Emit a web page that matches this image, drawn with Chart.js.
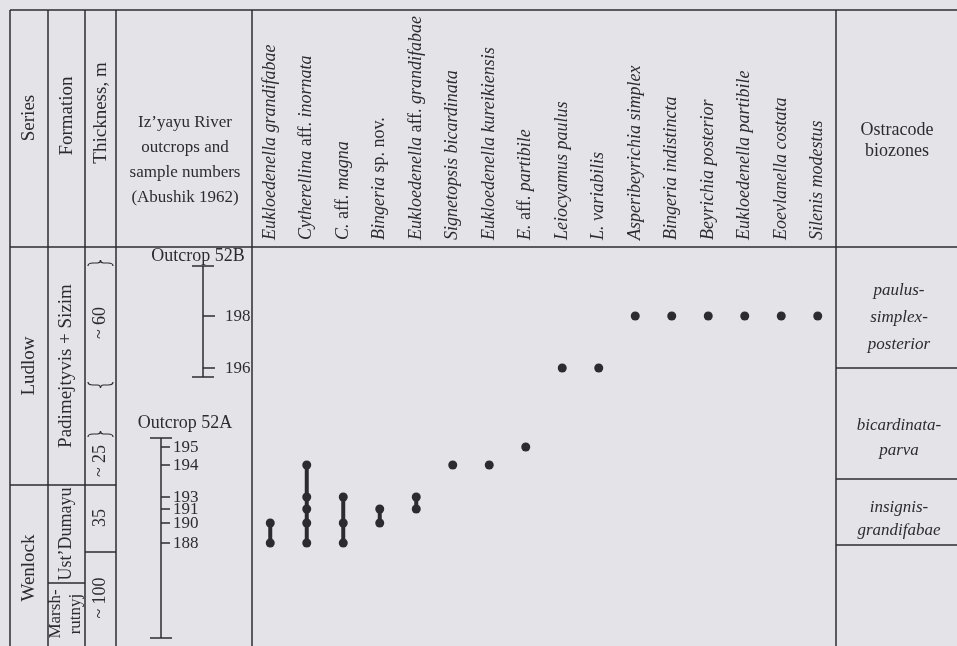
<!DOCTYPE html>
<html>
<head>
<meta charset="utf-8">
<script src="https://cdn.jsdelivr.net/npm/chart.js@4.4.0/dist/chart.umd.min.js"></script>
<style>
  html, body { margin: 0; padding: 0; background: #e4e4e8; }
  #wrap { width: 957px; height: 646px; position: relative; }
  canvas { display: block; }
</style>
</head>
<body>
<div id="wrap"><canvas id="rangeChart"></canvas></div>
<script>
// Ostracode species, in column order
const species = [
    'Eukloedenella grandifabae', 'Cytherellina aff. inornata', 'C. aff. magna',
    'Bingeria sp. nov.', 'Eukloedenella aff. grandifabae', 'Signetopsis bicardinata',
    'Eukloedenella kureikiensis', 'E. aff. partibile', 'Leiocyamus paulus',
    'L. variabilis', 'Asperibeyrichia simplex', 'Bingeria indistincta',
    'Beyrichia posterior', 'Eukloedenella partibile', 'Eoevlanella costata',
    'Silenis modestus'
];

// samples in which each species was found
const occurrences = [
    [190, 188], [194, 193, 191, 190, 188], [193, 190, 188],
    [191, 190], [193, 191], [194],
    [194], [195], [196],
    [196], [198], [198],
    [198], [198], [198],
    [198]
];

// sample numbers and their stratigraphic height (section units, base = 0)
const sampleNumbers = [198, 196, 195, 194, 193, 191, 190, 188];
const sampleHeights = [330, 278, 199, 181, 149, 137, 123, 103];

// outcrops (Abushik 1962)
const outcrops = ['Outcrop 52B', 'Outcrop 52A'];
const outcropTop = [380, 208];
const outcropBase = [269, 8];
const outcropSamples = [[198, 196], [195, 194, 193, 191, 190, 188]];

// biozones
const biozones = [['paulus-', 'simplex-', 'posterior'], ['bicardinata-', 'parva'], ['insignis-', 'grandifabae']];

const INK = '#2c2c30';
const SERIF = '"Liberation Serif", "DejaVu Serif", serif';

function heightOf(sample) {
    return sampleHeights[sampleNumbers.indexOf(sample)];
}

// draw words rotated -90deg, italic except for "aff.", "sp.", "nov."
function rotLabel(ctx, text, x, y, size) {
    const parts = text.split(' ').map((w, k) => {
        const plain = ['aff.', 'sp.', 'nov.'].includes(w);
        return { t: (k ? ' ' : '') + w, font: (plain ? '' : 'italic ') + size + 'px ' + SERIF };
    });
    ctx.save();
    ctx.translate(x, y);
    ctx.rotate(-Math.PI / 2);
    ctx.textBaseline = 'middle';
    ctx.textAlign = 'left';
    let pos = 0;
    parts.forEach(p => {
        ctx.font = p.font;
        ctx.fillText(p.t, pos, 0);
        pos += ctx.measureText(p.t).width;
    });
    ctx.restore();
}

function rotPlain(ctx, text, x, y, size) {
    ctx.save();
    ctx.translate(x, y);
    ctx.rotate(-Math.PI / 2);
    ctx.font = size + 'px ' + SERIF;
    ctx.textAlign = 'center';
    ctx.textBaseline = 'middle';
    ctx.fillText(text, 0, 0);
    ctx.restore();
}

function line(ctx, x1, y1, x2, y2) {
    ctx.beginPath();
    ctx.moveTo(x1, y1);
    ctx.lineTo(x2, y2);
    ctx.stroke();
}

// small horizontal curly brace, dir = -1 tip up, 1 tip down
function brace(ctx, x1, x2, y, dir) {
    const m = (x1 + x2) / 2;
    ctx.beginPath();
    ctx.moveTo(x1, y - dir * 3);
    ctx.quadraticCurveTo(x1, y, x1 + 5, y);
    ctx.lineTo(m - 3, y);
    ctx.quadraticCurveTo(m, y, m, y + dir * 3);
    ctx.quadraticCurveTo(m, y, m + 3, y);
    ctx.lineTo(x2 - 5, y);
    ctx.quadraticCurveTo(x2, y, x2, y - dir * 3);
    ctx.stroke();
}

const tablePlugin = {
    id: 'table',
    beforeDraw(chart) {
        const ctx = chart.ctx;
        ctx.save();
        ctx.fillStyle = '#e4e4e8';
        ctx.fillRect(0, 0, chart.width, chart.height);
        ctx.restore();
    },
    afterDraw(chart) {
        const ctx = chart.ctx;
        const x = chart.scales.x, y = chart.scales.y;
        const W = chart.width, H = chart.height;
        const top = 10, head = chart.chartArea.top;
        ctx.save();
        ctx.strokeStyle = INK;
        ctx.fillStyle = INK;
        ctx.lineWidth = 1.5;

        // frame and column lines
        line(ctx, 10, top, W, top);
        line(ctx, 10, head, W, head);
        [10, 48, 85, 116, chart.chartArea.left, chart.chartArea.right].forEach(cx => line(ctx, cx, top, cx, H));
        line(ctx, 10, 485, 116, 485);
        line(ctx, 85, 552, 116, 552);
        line(ctx, 48, 583, 85, 583);
        [368, 479, 545].forEach(cy => line(ctx, chart.chartArea.right, cy, W, cy));

        // header
        rotPlain(ctx, 'Series', 29, 118, 19);
        rotPlain(ctx, 'Formation', 67, 116, 19);
        rotPlain(ctx, 'Thickness, m', 101, 113, 19);
        ctx.font = '17px ' + SERIF;
        ctx.textAlign = 'center';
        ctx.textBaseline = 'middle';
        ['Iz\u2019yayu River', 'outcrops and', 'sample numbers', '(Abushik 1962)']
            .forEach((t, k) => ctx.fillText(t, 185, 123 + k * 25));
        ctx.font = '18px ' + SERIF;
        ctx.fillText('Ostracode', 897, 130);
        ctx.fillText('biozones', 897, 151);

        species.forEach((s, i) => rotLabel(ctx, s, x.getPixelForValue(i), 240, 18));

        // series, formation, thickness
        rotPlain(ctx, 'Ludlow', 29, 366, 19);
        rotPlain(ctx, 'Wenlock', 29, 568, 19);
        rotPlain(ctx, 'Padimejtyvis + Sizim', 66, 366, 19);
        rotPlain(ctx, 'Ust\u2019Dumayu', 66, 534, 18);
        rotPlain(ctx, 'Marsh-', 56, 614, 17);
        rotPlain(ctx, 'rutnyj', 76, 614, 17);
        rotPlain(ctx, '~ 60', 100, 323, 18);
        rotPlain(ctx, '~ 25', 100, 461, 18);
        rotPlain(ctx, '35', 100, 518, 18);
        rotPlain(ctx, '~ 100', 100, 598, 18);
        ctx.lineWidth = 1.2;
        brace(ctx, 88, 113, 263, -1);
        brace(ctx, 88, 113, 385, 1);
        brace(ctx, 88, 113, 434, -1);
        ctx.lineWidth = 1.5;

        // outcrop sample scales
        const colX = [203, 161];
        const labelX = [198, 185];
        const labelY = [256, 423];
        outcrops.forEach((o, k) => {
            const cx = colX[k];
            const yt = y.getPixelForValue(outcropTop[k]);
            const yb = y.getPixelForValue(outcropBase[k]);
            ctx.font = '18px ' + SERIF;
            ctx.textAlign = 'center';
            ctx.textBaseline = 'middle';
            ctx.fillText(o, labelX[k], labelY[k]);
            line(ctx, cx, yt, cx, yb);
            line(ctx, cx - 11, yt, cx + 11, yt);
            line(ctx, cx - 11, yb, cx + 11, yb);
            ctx.font = '17px ' + SERIF;
            ctx.textAlign = 'left';
            outcropSamples[k].forEach(s => {
                const sy = y.getPixelForValue(heightOf(s));
                line(ctx, cx, sy, cx + (k ? 9 : 12), sy);
                ctx.fillText(String(s), cx + (k ? 12 : 22), sy + 1);
            });
        });

        // biozone names
        ctx.font = 'italic 17px ' + SERIF;
        ctx.textAlign = 'center';
        const zoneY = [[291, 318, 345], [426, 451], [508, 531]];
        biozones.forEach((z, k) => z.forEach((t, j) => ctx.fillText(t, 899, zoneY[k][j])));
        ctx.restore();
    }
};

const datasets = species.map((s, i) => ({
    label: s,
    data: occurrences[i].map(smp => ({ x: s, y: heightOf(smp) })),
    borderColor: INK,
    backgroundColor: INK,
    borderWidth: 4,
    pointRadius: 4.5,
    pointBorderWidth: 0,
    pointBackgroundColor: INK
}));

const ctx = document.getElementById('rangeChart').getContext('2d');
window.myChart = new Chart(ctx, {
    type: 'line',
    data: { labels: species, datasets: datasets },
    options: {
        responsive: true,
        maintainAspectRatio: false,
        animation: false,
        layout: { autoPadding: false, padding: { left: 252, right: 121, top: 247, bottom: 0 } },
        plugins: {
            legend: { display: false },
            tooltip: { enabled: false }
        },
        scales: {
            x: { type: 'category', offset: true, display: false },
            y: { type: 'linear', min: 0, max: 399, display: false }
        }
    },
    plugins: [tablePlugin]
});
</script>
</body>
</html>
